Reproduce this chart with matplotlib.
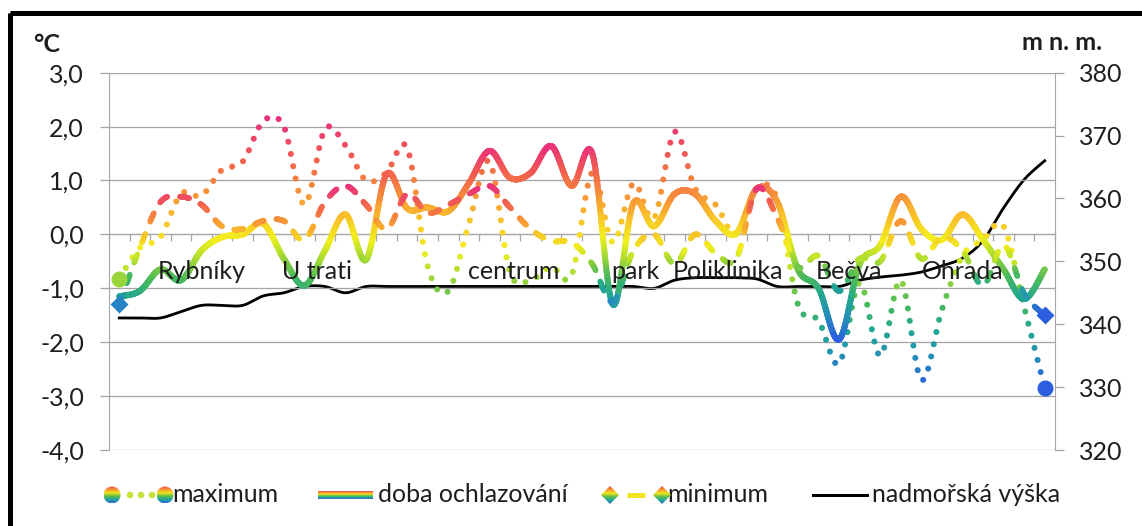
import numpy as np
import matplotlib.pyplot as plt
from matplotlib.collections import LineCollection
from matplotlib.colors import LinearSegmentedColormap, Normalize
from matplotlib.patches import Rectangle, Circle, Polygon

plt.rcParams['font.family'] = ['Lato', 'DejaVu Sans']

# temperature differences (°C) at the 46 stops along the route
maximum = [-0.82, -0.25, -0.05, 0.75, 0.72, 1.2, 1.35, 2.1, 2.0, 0.55,
           1.95, 1.65, 1.0, 1.15, 1.6, -0.6, -1.05, 0.2, 1.35, -0.7,
           -0.85, -0.6, -0.75, 1.15, -0.15, 0.95, 0.3, 1.9, 0.85, 0.55,
           0.0, 0.85, 0.65, -1.3, -1.6, -2.4, -0.9, -2.25, -0.85, -2.7,
           -1.4, -0.4, -0.1, 0.15, -1.35, -2.85]
cooling = [-1.15, -1.05, -0.65, -0.85, -0.3, -0.05, 0.0, 0.2, -0.45, -0.95,
           -0.3, 0.37, -0.47, 1.12, 0.48, 0.5, 0.43, 0.95, 1.55, 1.05,
           1.14, 1.64, 0.9, 1.5, -1.3, 0.58, 0.15, 0.75, 0.75, 0.25,
           0.02, 0.85, 0.6, -0.65, -1.0, -1.95, -0.55, -0.2, 0.7, 0.1,
           -0.1, 0.37, -0.1, -0.65, -1.2, -0.65]
minimum = [-1.3, -0.25, 0.6, 0.7, 0.55, 0.15, 0.1, 0.25, 0.25, -0.1,
           0.6, 0.9, 0.55, 0.1, 0.75, 0.4, 0.55, 0.75, 0.9, 0.5,
           0.1, -0.12, -0.15, -0.55, -1.25, -0.3, 0.0, -0.55, 0.0, -0.35,
           -0.45, 0.85, 0.3, -0.6, -0.4, -1.05, -0.45, -0.5, 0.25, -0.45,
           -0.05, -0.3, -0.95, -0.2, -1.1, -1.5]
# altitude of each stop (m n. m.)
altitude = [341, 341, 341, 342, 343, 343, 343, 344.5, 345, 346,
            346, 345, 346, 346, 346, 346, 346, 346, 346, 346,
            346, 346, 346, 346, 346, 346, 345.7, 347, 347.4, 347.4,
            347.4, 347.2, 346, 346, 346, 346, 347, 347.5, 347.8, 348.3,
            349.3, 350.5, 353.3, 358.5, 363, 366]

places = ['Rybníky', 'U trati', 'centrum', 'park', 'Poliklinika', 'Bečva', 'Ohrada']
place_at = [4.0, 9.6, 19.2, 25.1, 29.6, 35.5, 41.0]

temp_ticks = [-4, -3, -2, -1, 0, 1, 2, 3]
temp_labels = ['-4,0', '-3,0', '-2,0', '-1,0', '0,0', '1,0', '2,0', '3,0']
alt_ticks = [320, 330, 340, 350, 360, 370, 380]
legend_labels = ['maximum', 'doba ochlazování', 'minimum', 'nadmořská výška']

W, H = 1142, 526
GRID = '#a6a6a6'
TXT = '#1e1e1e'
FS = 18
PX = 0.72  # points per pixel at 100 dpi

# value gradient used by the three temperature series
heat = LinearSegmentedColormap.from_list('heat', [
    (0.00, '#2b5fe0'), (0.12, '#2590b8'), (0.22, '#22a890'), (0.32, '#4cba5a'),
    (0.44, '#b5df2e'), (0.52, '#f3ef1d'), (0.64, '#f9be2a'), (0.74, '#f7903a'),
    (0.86, '#f2604e'), (1.00, '#e9307c')])
# striped fill of the legend symbols
badge = LinearSegmentedColormap.from_list('badge', [
    '#2c6fd6', '#1fa3a0', '#5cbf4a', '#f2e41e', '#f7962e', '#ee4b4b'])


def smooth(xv, yv, steps=60):
    """Catmull-Rom style smoothing like a spreadsheet 'smoothed line'."""
    xv = np.asarray(xv, float)
    yv = np.asarray(yv, float)
    p = np.column_stack([xv, yv])
    p = np.vstack([p[:1], p, p[-1:]])
    t = np.linspace(0, 1, steps, endpoint=False)[:, None]
    out = []
    for k in range(len(xv) - 1):
        p0, p1, p2, p3 = p[k], p[k + 1], p[k + 2], p[k + 3]
        b1 = p1 + (p2 - p0) / 6
        b2 = p2 - (p3 - p1) / 6
        out.append((1 - t) ** 3 * p1 + 3 * (1 - t) ** 2 * t * b1
                   + 3 * (1 - t) * t ** 2 * b2 + t ** 3 * p2)
    out.append(p[-1:])
    c = np.vstack(out)
    return c[:, 0], c[:, 1]


def arc_length(axis, xs, ys):
    d = axis.transData.transform(np.column_stack([xs, ys]))
    step = np.hypot(np.diff(d[:, 0]), np.diff(d[:, 1]))
    return np.r_[0, np.cumsum(step)]


def gradient_path(axis, xs, ys, norm, lw_px, z, on=None, off=None):
    pts = np.column_stack([xs, ys])
    segs = np.stack([pts[:-1], pts[1:]], axis=1)
    mid = (ys[:-1] + ys[1:]) / 2
    keep = np.ones(len(segs), bool)
    if on is not None:
        s = arc_length(axis, xs, ys)
        sm = (s[:-1] + s[1:]) / 2
        keep = (sm % (on + off)) < on
    lc = LineCollection(segs[keep], colors=heat(norm(mid[keep])),
                        linewidths=lw_px * PX, capstyle='round',
                        joinstyle='round', zorder=z)
    axis.add_collection(lc)


def gradient_dots(axis, xs, ys, norm, spacing_px, diam_px, z):
    s = arc_length(axis, xs, ys)
    at = np.arange(0, s[-1], spacing_px)
    dx = np.interp(at, s, xs)
    dy = np.interp(at, s, ys)
    axis.scatter(dx, dy, s=(diam_px * PX) ** 2, c=heat(norm(dy)),
                 linewidths=0, zorder=z)


fig = plt.figure(figsize=(W / 100, H / 100), dpi=100)
left, right, top, bottom = 109, 1055, 72.7, 450
ax = fig.add_axes([left / W, 1 - bottom / H, (right - left) / W, (bottom - top) / H])
ax2 = ax.twinx()
ax.set_zorder(ax2.get_zorder() + 1)
ax.patch.set_visible(False)

x = np.arange(len(cooling))
ax.set_xlim(-0.5, len(x) - 0.5)
ax.set_ylim(-4, 3)
ax2.set_ylim(320, 380)

# altitude on the secondary axis
ax2.plot(*smooth(x, altitude), color='black', lw=2.8 * PX, zorder=2)

# maximum: round dots
n_max = Normalize(min(maximum), max(maximum))
gradient_dots(ax, *smooth(x, maximum), n_max, 12.5, 6.0, 3)
# cooling period: solid line
n_cool = Normalize(min(cooling), max(cooling))
gradient_path(ax, *smooth(x, cooling), n_cool, 6, 4)
# minimum: dashes
n_min = Normalize(min(minimum), max(minimum))
gradient_path(ax, *smooth(x, minimum), n_min, 5.5, 5, on=9.5, off=12.5)

# end markers
for i in (0, len(x) - 1):
    ax.plot(x[i], maximum[i], 'o', ms=16 * PX, color=heat(n_max(maximum[i])),
            mec='none', zorder=6)
    ax.plot(x[i], minimum[i], 'D', ms=13 * PX, color=heat(n_min(minimum[i])),
            mec='none', zorder=6)

for name, pos in zip(places, place_at):
    ax.text(pos, -0.82, name, ha='center', va='baseline', fontsize=FS,
            color=TXT, zorder=8)

# axes styling
ax.set_yticks(temp_ticks)
ax.set_yticklabels(temp_labels)
ax.yaxis.grid(True, color=GRID, lw=1.3 * PX)
ax.set_axisbelow(True)
ax.set_xticks(np.arange(-0.5, len(x), 1))
ax.set_xticklabels([])
ax.spines['bottom'].set_position(('data', 0))
ax.spines['bottom'].set_color(GRID)
ax.spines['left'].set_color(GRID)
ax.spines['top'].set_visible(False)
ax.spines['right'].set_visible(False)
ax.tick_params(axis='x', direction='out', length=7 * PX, color=GRID, width=1.3 * PX)
ax.tick_params(axis='y', direction='out', length=9 * PX, color=GRID, width=1.3 * PX,
               labelsize=FS, labelcolor=TXT, pad=16 * PX)

ax2.set_yticks(alt_ticks)
ax2.tick_params(axis='y', direction='out', length=9 * PX, color=GRID, width=1.3 * PX,
                labelsize=FS, labelcolor=TXT, pad=15 * PX)
for side in ('left', 'top', 'bottom'):
    ax2.spines[side].set_visible(False)
ax2.spines['right'].set_color(GRID)

# overlay in pixel units: frame, unit labels and legend
ov = fig.add_axes([0, 0, 1, 1], zorder=20)
ov.set_xlim(0, W)
ov.set_ylim(H, 0)
ov.axis('off')
ov.add_patch(Rectangle((9.5, 13), W + 20, H + 20, fill=False, ec='black', lw=5 * PX))
ov.text(33, 52, '°C', fontsize=FS, fontweight='bold', color=TXT, va='baseline')
ov.text(1022, 50, 'm n. m.', fontsize=FS, fontweight='bold', color=TXT, va='baseline')

ly = 495
grad = np.linspace(1, 0, 64)[:, None]


def striped(patch, x0, x1, y0, y1):
    ov.add_patch(patch)
    im = ov.imshow(grad, cmap=badge, extent=[x0, x1, y1, y0], aspect='auto',
                   interpolation='bilinear', zorder=5)
    im.set_clip_path(patch)


for cx in (112, 165):
    r = 8.5
    striped(Circle((cx, ly), r, fc='none', ec='none'), cx - r, cx + r, ly - r, ly + r)
for cx in (130, 141, 152):
    ov.add_patch(Circle((cx, ly), 2.6, color='#c8e03a', zorder=4))
ov.text(172, ly + 7, legend_labels[0], fontsize=FS, color=TXT, va='baseline')

striped(Rectangle((318, ly - 4), 55, 8, fc='none', ec='none'), 318, 373, ly - 4, ly + 4)
ov.text(378, ly + 7, legend_labels[1], fontsize=FS, color=TXT, va='baseline')

for cx in (610, 662):
    r = 9
    striped(Polygon([(cx, ly - r), (cx + r, ly), (cx, ly + r), (cx - r, ly)],
                    closed=True, fc='none', ec='none'), cx - r, cx + r, ly - r, ly + r)
ov.plot([627, 645], [ly, ly], color='#f2e41e', lw=5 * PX, solid_capstyle='butt')
ov.text(667, ly + 7, legend_labels[2], fontsize=FS, color=TXT, va='baseline')

ov.plot([813, 867], [ly, ly], color='black', lw=3 * PX)
ov.text(872, ly + 7, legend_labels[3], fontsize=FS, color=TXT, va='baseline')

ov.set_xlim(0, W)
ov.set_ylim(H, 0)

fig.savefig('out.png', dpi=100, facecolor='white')
